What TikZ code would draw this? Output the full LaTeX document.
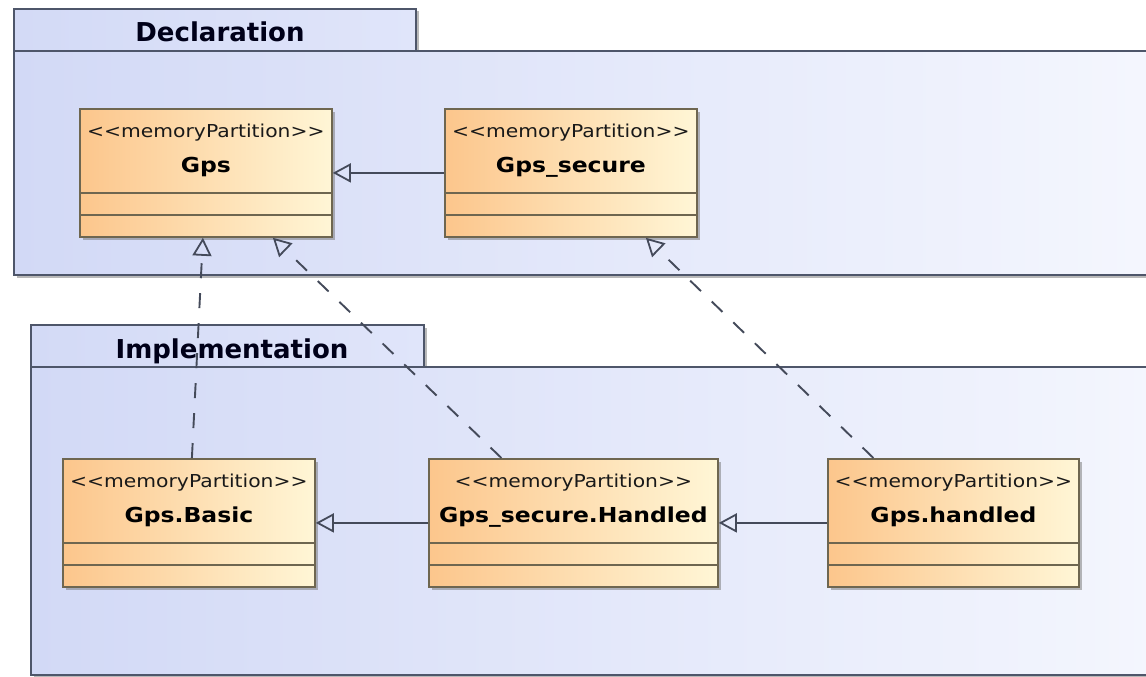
\documentclass[tikz,border=0pt]{standalone}
\usepackage{fontspec}
\usepackage{graphicx}
\setmainfont{DejaVu Sans}
\usetikzlibrary{arrows.meta,shadows}

\definecolor{pkgline}{HTML}{4E566A}
\definecolor{pkgleft}{HTML}{D2D9F6}
\definecolor{pkgright}{HTML}{F5F7FE}
\definecolor{tableft}{HTML}{D3DAF6}
\definecolor{tabright}{HTML}{E0E5FA}
\definecolor{clsline}{HTML}{6E6650}
\definecolor{clsleft}{HTML}{FCC68C}
\definecolor{clsright}{HTML}{FFF6D6}
\definecolor{linkcol}{HTML}{444A5A}

% horizontally widened label text
\newcommand\widetext[1]{\scalebox{1.14}[1]{#1}}

\tikzset{
  x=1pt, y=-1pt,
  pkgbody/.style={draw=pkgline, line width=2pt, left color=pkgleft, right color=pkgright,
    drop shadow={shadow xshift=2.5pt, shadow yshift=-2.5pt, fill=black!50, opacity=.55},
    anchor=north west, inner sep=0pt},
  pkgtab/.style={draw=pkgline, line width=2pt, left color=tableft, right color=tabright,
    drop shadow={shadow xshift=2.5pt, shadow yshift=-2.5pt, fill=black!50, opacity=.55},
    anchor=north west, inner sep=0pt, minimum height=42pt},
  pkgtitle/.style={anchor=base, inner sep=0pt, font=\fontsize{26}{30}\selectfont\bfseries, text=black!90!blue},
  clsbox/.style={draw=clsline, line width=1.8pt, left color=clsleft, right color=clsright,
    drop shadow={shadow xshift=3.5pt, shadow yshift=-3.5pt, fill=black!55, opacity=.5},
    anchor=north west, inner sep=0pt, minimum height=128pt},
  stereo/.style={anchor=base, inner sep=0pt, font=\fontsize{17.8}{20}\selectfont, text=black!90},
  clsname/.style={anchor=base, inner sep=0pt, font=\fontsize{20.6}{24}\selectfont\bfseries, text=black},
  divider/.style={draw=clsline, line width=1.6pt},
  tip/.style={-{Triangle[open, length=18pt, width=19pt, line width=1.8pt]}},
  genline/.style={tip, draw=linkcol, line width=1.9pt},
  realline/.style={tip, draw=linkcol, line width=1.9pt, dash pattern=on 15pt off 15pt},
}

% class box: name, left x, top y, width, label
\newcommand\umlbox[5]{%
  \node[clsbox, minimum width=#4pt] (#1) at (#2,#3) {};
  \node[stereo] (#1-st) at ([yshift=-29pt]#1.north) {\widetext{<{}<memoryPartition>{}>}};
  \node[clsname] (#1-nm) at ([yshift=-64pt]#1.north) {\widetext{#5}};
  \draw[divider] ([yshift=-85pt]#1.north west) -- ([yshift=-85pt]#1.north east);
  \draw[divider] ([yshift=-107pt]#1.north west) -- ([yshift=-107pt]#1.north east);
}

\begin{document}
\begin{tikzpicture}
  \useasboundingbox (0,0) rectangle (1146,677);
  \clip (0,0) rectangle (1146,677);
  \fill[white] (0,0) rectangle (1146,677);

  % package Declaration
  \node[pkgtab, minimum width=402pt] (decltab) at (13,8) {};
  \node[pkgbody, minimum width=1160pt, minimum height=224pt] (declbody) at (13,50) {};
  \node[pkgtitle] (decltitle) at (220,42) {Declaration};

  % package Implementation
  \node[pkgtab, minimum width=393pt] (impltab) at (30,324) {};
  \node[pkgbody, minimum width=1160pt, minimum height=308pt] (implbody) at (30,366) {};
  \node[pkgtitle] (impltitle) at (232,358) {Implementation};

  % classes
  \umlbox{gps}{79}{108}{252}{Gps}
  \umlbox{gsec}{444}{108}{252}{Gps\_secure}
  \umlbox{basic}{62}{458}{252}{Gps.Basic}
  \umlbox{sgh}{428}{458}{289}{Gps\_secure.Handled}
  \umlbox{hdl}{827}{458}{251}{Gps.handled}

  % generalizations
  \draw[genline] (gsec.west) -- (gps.east);
  \draw[genline] (sgh.west) -- (basic.east);
  \draw[genline] (hdl.west) -- (sgh.east);

  % realizations
  \draw[realline] ([xshift=3pt]basic.north) -- ([xshift=-3pt]gps.south);
  \draw[realline] ([xshift=-72pt]sgh.north) -- ([xshift=67pt]gps.south);
  \draw[realline] ([xshift=-80pt]hdl.north) -- ([xshift=75pt]gsec.south);
\end{tikzpicture}
\end{document}
